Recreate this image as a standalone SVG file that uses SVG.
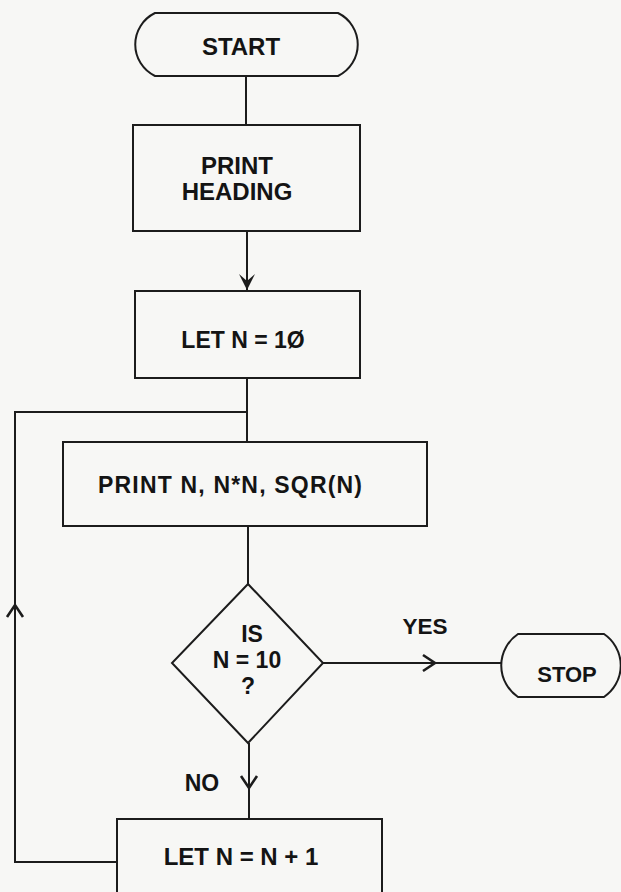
<svg xmlns="http://www.w3.org/2000/svg" width="621" height="892" viewBox="0 0 621 892">
<style>
.shape{fill:none;stroke:#1c1c1c;stroke-width:2}
.conn{fill:none;stroke:#1c1c1c;stroke-width:2}
.t{font-family:"Liberation Sans",Arial,sans-serif;font-weight:bold;fill:#141414;text-anchor:middle}
</style>
<defs>
<marker id="chev" markerUnits="userSpaceOnUse" viewBox="-14 -10 16 20" refX="0" refY="0" markerWidth="16" markerHeight="20" orient="auto" overflow="visible">
<path d="M-12,-8 L0,0 L-12,8" fill="none" stroke="#1c1c1c" stroke-width="2.6" stroke-linejoin="miter"/>
</marker>
<marker id="solid" markerUnits="userSpaceOnUse" viewBox="-18 -10 20 20" refX="0" refY="0" markerWidth="20" markerHeight="20" orient="auto" overflow="visible">
<path d="M0,0 L-16,-8 L-9,0 L-16,8 Z" fill="#1c1c1c"/>
</marker>
</defs>
<rect x="0" y="0" width="621" height="892" fill="#f7f7f5"/>

<g id="connectors">
<path class="conn" d="M246,76 V125"/>
<path class="conn" d="M247,231 V290" marker-end="url(#solid)"/>
<path class="conn" d="M247,378 V442"/>
<path class="conn" d="M248,526 V584"/>
<path class="conn" d="M323,663 H435" marker-end="url(#chev)"/>
<path class="conn" d="M435,663 H501"/>
<path class="conn" d="M249,743 V788" marker-end="url(#chev)"/>
<path class="conn" d="M249,788 V819"/>
<path class="conn" d="M117,862 H15 V605" marker-end="url(#chev)"/>
<path class="conn" d="M15,605 V412 H247"/>
</g>

<g id="start">
<path class="shape" d="M155,13 H338 A35,35 0 0 1 338,76 H155 A35,35 0 0 1 155,13 Z"/>
<text class="t" x="241" y="55" font-size="24">START</text>
</g>

<g id="print-heading">
<rect class="shape" x="133" y="125" width="227" height="106"/>
<text class="t" x="237" y="174" font-size="24">PRINT</text>
<text class="t" x="237" y="200" font-size="24">HEADING</text>
</g>

<g id="let-n-10">
<rect class="shape" x="135" y="291" width="225" height="87"/>
<text class="t" x="243" y="348" font-size="23">LET N = 1Ø</text>
</g>

<g id="print-n">
<rect class="shape" x="63" y="442" width="364" height="84"/>
<text class="t" x="230" y="493" font-size="23" textLength="264" lengthAdjust="spacing">PRINT N, N*N, SQR(N)</text>
</g>

<g id="decision">
<polygon class="shape" points="248,584 323,663 248,743 172,663"/>
<text class="t" x="252" y="642" font-size="23">IS</text>
<text class="t" x="247" y="668" font-size="23">N = 10</text>
<text class="t" x="248" y="694" font-size="23">?</text>
</g>

<g id="label-yes">
<text class="t" x="425" y="634" font-size="22.5">YES</text>
</g>

<g id="stop">
<path class="shape" d="M518,634 H604 A38,38 0 0 1 604,697 H518 A38,38 0 0 1 518,634 Z"/>
<text class="t" x="567" y="682" font-size="22">STOP</text>
</g>

<g id="label-no">
<text class="t" x="202" y="791" font-size="23">NO</text>
</g>

<g id="let-n-plus-1">
<rect class="shape" x="117" y="819" width="265" height="90"/>
<text class="t" x="241" y="865" font-size="24">LET N = N + 1</text>
</g>
</svg>
